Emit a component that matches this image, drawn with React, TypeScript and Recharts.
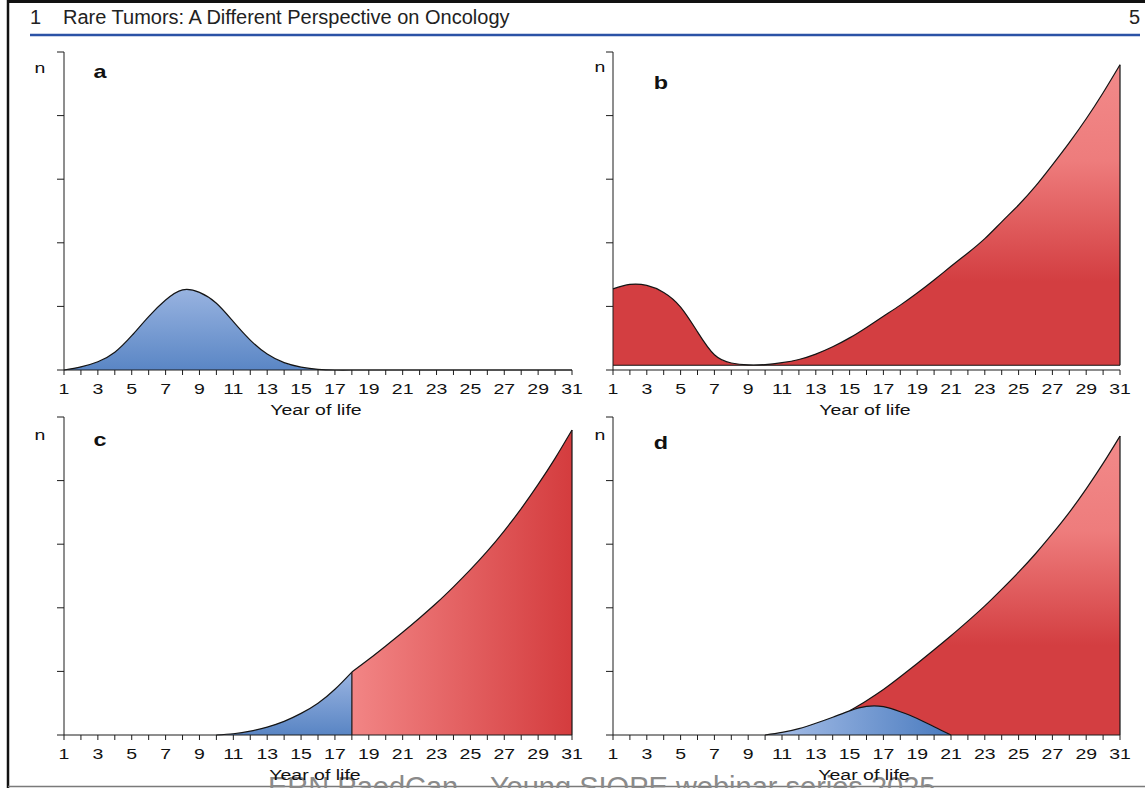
import React from 'react';
import { AreaChart, Area, XAxis, YAxis, ReferenceLine } from 'recharts';

// years on the x axis, one tick per year, labels on odd years
const YEARS = [1, 2, 3, 4, 5, 6, 7, 8, 9, 10, 11, 12, 13, 14, 15, 16, 17, 18, 19, 20, 21, 22, 23, 24, 25, 26, 27, 28, 29, 30, 31];
const X_LABELS = [1, 3, 5, 7, 9, 11, 13, 15, 17, 19, 21, 23, 25, 27, 29, 31];
const Y_TICKS = [0, 20, 40, 60, 80, 100];

// a: childhood peak (years 1..31)
const A_VALUES = [0, 1.0, 2.6, 5.6, 10.8, 16.8, 22.0, 25.2, 24.4, 21.0, 15.2, 9.4, 5.0, 2.3, 0.9, 0.2, 0, 0, 0, 0, 0, 0, 0, 0, 0, 0, 0, 0, 0, 0, 0];

// b: early bump then adult rise (years 1..31), filled down to a raised base
const B_BASE = 1.5;
const B_VALUES = [25.5, 26.9, 26.6, 24.4, 19.8, 12.0, 4.8, 2.2, 1.6, 1.7, 2.3, 3.3, 5.0, 7.3, 10.1, 13.4, 16.9, 20.4, 24.2, 28.3, 32.6, 36.8, 41.3, 46.6, 51.9, 57.8, 64.5, 71.5, 79.0, 87.2, 96.0];

// c: one rising curve split at age 18
const C_BLUE_START = 10;
const C_BLUE = [0, 0.4, 1.2, 2.5, 4.3, 6.8, 10.0, 14.4, 19.8];
const C_RED_START = 18;
const C_RED = [19.8, 23.8, 28.0, 32.3, 36.8, 41.5, 46.6, 52.0, 57.8, 64.2, 71.2, 78.8, 87.0, 95.9];

// d: adolescent bump under an adult rise
const D_BLUE_START = 10;
const D_BLUE = [0, 0.8, 2.0, 3.7, 5.6, 7.6, 9.0, 8.9, 7.3, 5.2, 2.6, 0];
const D_RED_START = 15;
const D_RED = [7.6, 10.8, 14.3, 18.3, 22.5, 26.8, 31.2, 35.8, 40.6, 45.8, 51.2, 57.0, 63.3, 70.0, 77.4, 85.4, 94.0];

const pick = (arr: number[], start: number, year: number) =>
  year >= start && year - start < arr.length ? arr[year - start] : null;

const rowsA = YEARS.map((year, i) => ({ year, v: A_VALUES[i] }));
const rowsB = YEARS.map((year, i) => ({ year, v: B_VALUES[i] }));
const rowsC = YEARS.map((year) => ({ year, blue: pick(C_BLUE, C_BLUE_START, year), red: pick(C_RED, C_RED_START, year) }));
const rowsD = YEARS.map((year) => ({ year, blue: pick(D_BLUE, D_BLUE_START, year), red: pick(D_RED, D_RED_START, year) }));

const FONT = '"Liberation Sans", Arial, Helvetica, sans-serif';
const AXIS = '#1c1c1c';
const LINE = '#141414';
const STRETCH = 1.3;
const CURVE = 'natural';

const XTick = (props: any) => {
  const { x, y, payload } = props;
  if (!X_LABELS.includes(payload.value)) return <g />;
  return (
    <text
      transform={`translate(${x} ${y}) scale(${STRETCH} 1)`}
      textAnchor="middle"
      dy="0.71em"
      fontSize={15}
      fontFamily={FONT}
      fill="#111"
    >
      {payload.value}
    </text>
  );
};

const Panel = ({ left, top, width, rows, children }: any) => (
  <div style={{ position: 'absolute', left: left - 10, top: top - 10 }}>
    <AreaChart width={width + 30} height={368} data={rows} margin={{ top: 10, right: 20, bottom: 0, left: 0 }}>
      {children}
      <XAxis
        dataKey="year"
        type="number"
        domain={[1, 31]}
        ticks={YEARS}
        interval={0}
        tick={XTick}
        tickSize={5}
        tickMargin={8}
        height={40}
        axisLine={{ stroke: AXIS }}
        tickLine={{ stroke: AXIS }}
      />
      <YAxis
        type="number"
        domain={[0, 100]}
        ticks={Y_TICKS}
        tickFormatter={() => ''}
        width={10}
        tickSize={7}
        axisLine={{ stroke: AXIS }}
        tickLine={{ stroke: AXIS }}
      />
    </AreaChart>
  </div>
);

const Stretched = ({ x, y, size, weight, children, anchor = 'middle' }: any) => (
  <text
    transform={`translate(${x} ${y}) scale(${STRETCH} 1)`}
    textAnchor={anchor}
    fontSize={size}
    fontWeight={weight}
    fontFamily={FONT}
    fill="#111"
  >
    {children}
  </text>
);

export default function App() {
  return (
    <div style={{ position: 'absolute', left: 0, top: 0, width: 1145, height: 788, overflow: 'hidden', background: '#fff' }}>
      <svg width={1145} height={788} style={{ position: 'absolute', left: 0, top: 0 }}>
        {/* page frame */}
        <line x1={8} y1={0} x2={8} y2={788} stroke="#111" strokeWidth={2.5} />
        <line x1={8} y1={1.5} x2={1145} y2={1.5} stroke="#111" strokeWidth={3} />
        <line x1={8} y1={786.5} x2={1145} y2={786.5} stroke="#7a7a7a" strokeWidth={1.5} />
        {/* running header */}
        <text x={30} y={24} fontSize={20} fontFamily={FONT} fill="#222">1</text>
        <text x={63} y={24} fontSize={20} fontFamily={FONT} fill="#222">Rare Tumors: A Different Perspective on Oncology</text>
        <text x={1140} y={24} fontSize={20} fontFamily={FONT} fill="#222" textAnchor="end">5</text>
        <line x1={30} y1={35} x2={1140} y2={35} stroke="#2b52a6" strokeWidth={2.5} />
        {/* watermark */}
        <text x={268} y={797} fontSize={29} fontFamily={FONT} fill="#8a8a8a">ERN PaedCan – Young SIOPE webinar series 2025</text>
        {/* panel labels */}
        <Stretched x={40} y={73} size={15}>n</Stretched>
        <Stretched x={600} y={72} size={15}>n</Stretched>
        <Stretched x={40} y={440} size={15}>n</Stretched>
        <Stretched x={600} y={440} size={15}>n</Stretched>
        <Stretched x={100} y={78} size={18} weight="bold">a</Stretched>
        <Stretched x={661} y={89} size={18} weight="bold">b</Stretched>
        <Stretched x={100} y={446} size={18} weight="bold">c</Stretched>
        <Stretched x={661} y={449} size={18} weight="bold">d</Stretched>
        <Stretched x={316} y={415} size={15}>Year of life</Stretched>
        <Stretched x={865} y={415} size={15}>Year of life</Stretched>
        <Stretched x={315} y={780} size={15}>Year of life</Stretched>
        <Stretched x={864} y={780} size={15}>Year of life</Stretched>
      </svg>

      {/* a */}
      <Panel left={64} top={52} width={508} rows={rowsA}>
        <defs>
          <linearGradient id="blueA" x1="0" y1="0" x2="0" y2="1">
            <stop offset="0%" stopColor="#98b3e0" />
            <stop offset="100%" stopColor="#5a86c5" />
          </linearGradient>
        </defs>
        <Area type={CURVE} dataKey="v" stroke={LINE} strokeWidth={1.2} fill="url(#blueA)" fillOpacity={1} dot={false} activeDot={false} isAnimationActive={false} />
      </Panel>

      {/* b */}
      <Panel left={613} top={52} width={507} rows={rowsB}>
        <defs>
          <linearGradient id="redB" x1="0" y1="0" x2="0" y2="1">
            <stop offset="0%" stopColor="#f28a8a" />
            <stop offset="32%" stopColor="#ee7c7c" />
            <stop offset="72%" stopColor="#d33e41" />
            <stop offset="100%" stopColor="#d33e41" />
          </linearGradient>
        </defs>
        <Area type={CURVE} dataKey="v" baseValue={B_BASE} stroke={LINE} strokeWidth={1.2} fill="url(#redB)" fillOpacity={1} dot={false} activeDot={false} isAnimationActive={false} />
        <ReferenceLine y={B_BASE} stroke={LINE} strokeWidth={1.2} />
        <ReferenceLine segment={[{ x: 31, y: B_BASE }, { x: 31, y: B_VALUES[B_VALUES.length - 1] }]} stroke={LINE} strokeWidth={1.2} />
      </Panel>

      {/* c */}
      <Panel left={64} top={417} width={508} rows={rowsC}>
        <defs>
          <linearGradient id="blueC" x1="0" y1="0" x2="0" y2="1">
            <stop offset="0%" stopColor="#9ab4e1" />
            <stop offset="100%" stopColor="#5985c4" />
          </linearGradient>
          <linearGradient id="redC" x1="0" y1="0" x2="1" y2="0">
            <stop offset="0%" stopColor="#f28585" />
            <stop offset="100%" stopColor="#d43c3e" />
          </linearGradient>
        </defs>
        <Area type={CURVE} dataKey="blue" stroke={LINE} strokeWidth={1.2} fill="url(#blueC)" fillOpacity={1} dot={false} activeDot={false} isAnimationActive={false} />
        <Area type={CURVE} dataKey="red" stroke={LINE} strokeWidth={1.2} fill="url(#redC)" fillOpacity={1} dot={false} activeDot={false} isAnimationActive={false} />
        <ReferenceLine segment={[{ x: C_RED_START, y: 0 }, { x: C_RED_START, y: C_RED[0] }]} stroke={LINE} strokeWidth={1.2} />
        <ReferenceLine segment={[{ x: 31, y: 0 }, { x: 31, y: C_RED[C_RED.length - 1] }]} stroke={LINE} strokeWidth={1.2} />
      </Panel>

      {/* d */}
      <Panel left={613} top={417} width={507} rows={rowsD}>
        <defs>
          <linearGradient id="redD" x1="0" y1="0" x2="0" y2="1">
            <stop offset="0%" stopColor="#f28a8a" />
            <stop offset="32%" stopColor="#ee7c7c" />
            <stop offset="70%" stopColor="#d33e41" />
            <stop offset="100%" stopColor="#d33e41" />
          </linearGradient>
          <linearGradient id="blueD" x1="0" y1="0" x2="1" y2="0">
            <stop offset="0%" stopColor="#aac1e9" />
            <stop offset="100%" stopColor="#4a7bbf" />
          </linearGradient>
        </defs>
        <Area type={CURVE} dataKey="red" stroke={LINE} strokeWidth={1.2} fill="url(#redD)" fillOpacity={1} dot={false} activeDot={false} isAnimationActive={false} />
        <Area type={CURVE} dataKey="blue" stroke={LINE} strokeWidth={1.2} fill="url(#blueD)" fillOpacity={1} dot={false} activeDot={false} isAnimationActive={false} />
        <ReferenceLine segment={[{ x: 31, y: 0 }, { x: 31, y: D_RED[D_RED.length - 1] }]} stroke={LINE} strokeWidth={1.2} />
      </Panel>
    </div>
  );
}
